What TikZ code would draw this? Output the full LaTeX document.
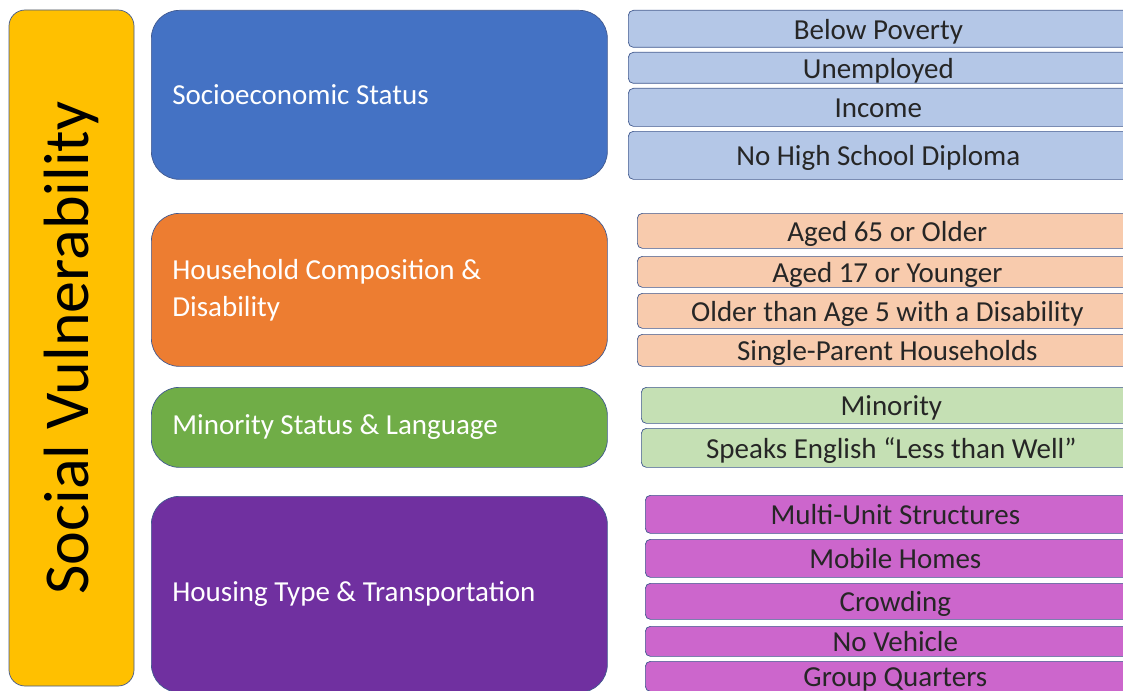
\documentclass[tikz,border=0pt]{standalone}
\usepackage{fontspec}
\setmainfont{Carlito}
\usepackage{xcolor}
\usepackage{tikz}
\usetikzlibrary{positioning}

\definecolor{svyellow}{HTML}{FFC000}
\definecolor{sesblue}{HTML}{4472C4}
\definecolor{seslight}{HTML}{B4C7E7}
\definecolor{hhorange}{HTML}{ED7D31}
\definecolor{hhlight}{HTML}{F8CBAD}
\definecolor{mingreen}{HTML}{70AD47}
\definecolor{minlight}{HTML}{C5E0B4}
\definecolor{htpurple}{HTML}{7030A0}
\definecolor{htlight}{HTML}{CC66CC}
\definecolor{edgeblue}{HTML}{41598F}

\begin{document}
\begin{tikzpicture}[
			x=1pt, y=-1pt,
			theme/.style = {draw=edgeblue, line width=0.7pt, rounded corners=16pt, font=\fontsize{64}{70}\selectfont, text=black},
			cat/.style   = {draw=edgeblue, line width=0.7pt, rounded corners=28pt, anchor=north west, minimum width=456pt, text width=414pt, align=flush left, text=white, font=\fontsize{29}{37}\selectfont},
			sub/.style   = {draw=edgeblue, line width=0.7pt, rounded corners=5pt, anchor=north west, minimum width=500pt, inner sep=0pt, text height=21pt, text depth=0pt, text=black!85, font=\fontsize{29}{32}\selectfont}
			]
			\clip (0,0) rectangle (1123,690);

			% main theme
			\node[theme, fill=svyellow, rotate=90, minimum width=676pt, minimum height=125pt] (sv) at (71.5,348) {Social Vulnerability};

			% categories
			\node[cat, fill=sesblue, minimum height=169pt] (ses) at (151,10) {Socioeconomic Status};
			\node[cat, fill=hhorange, minimum height=153pt] (hhd) at (151,213) {Household Composition \&\\Disability};
			\node[cat, fill=mingreen, minimum height=80pt] (msl) at (151,387) {Minority Status \& Language};
			\node[cat, fill=htpurple, minimum height=196pt] (htt) at (151,496) {Housing Type \& Transportation};

			% socioeconomic items
			\foreach \n/\t/\h/\txt in {ses1/10/37/Below Poverty, ses2/52/31/Unemployed, ses3/88/38/Income, ses4/131/48/No High School Diploma}
			\node[sub, fill=seslight, minimum height=\h pt] (\n) at (628,\t) {\txt};

			% household items
			\foreach \n/\t/\h/\txt in {hh1/213/35/Aged 65 or Older, hh2/256/31/Aged 17 or Younger, hh3/293/35/Older than Age 5 with a Disability, hh4/334/32/Single-Parent Households}
			\node[sub, fill=hhlight, minimum height=\h pt] (\n) at (637,\t) {\txt};

			% minority items
			\foreach \n/\t/\h/\txt in {min1/387/36/Minority, min2/428/39/Speaks English “Less than Well”}
			\node[sub, fill=minlight, minimum height=\h pt] (\n) at (641,\t) {\txt};

			% housing items
			\foreach \n/\t/\h/\txt in {ht1/495/38/Multi-Unit Structures, ht2/539/38/Mobile Homes, ht3/583/36/Crowding, ht4/626/30/No Vehicle, ht5/661/30/Group Quarters}
			\node[sub, fill=htlight, minimum height=\h pt] (\n) at (645,\t) {\txt};
		\end{tikzpicture}
\end{document}
